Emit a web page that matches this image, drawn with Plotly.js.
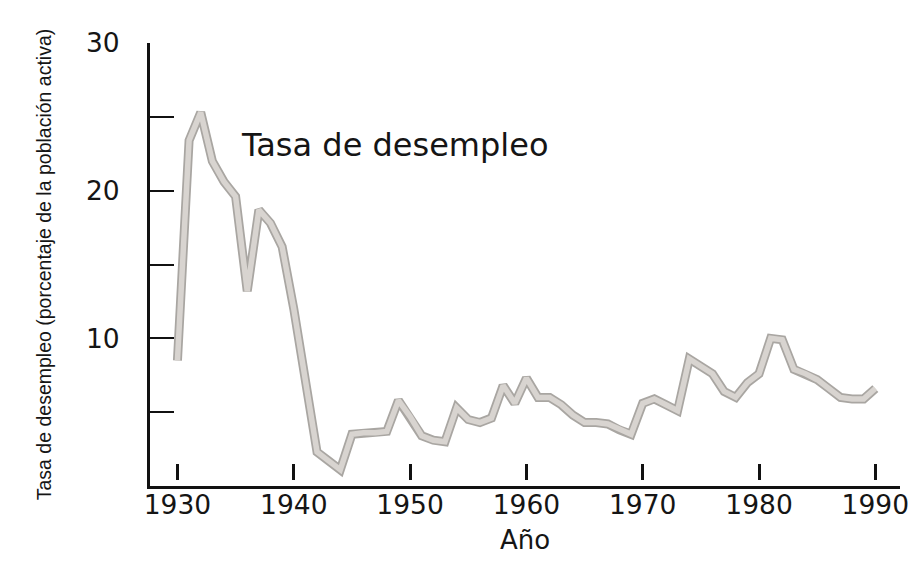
<!DOCTYPE html>
<html>
<head>
<meta charset="utf-8">
<script src="https://cdn.plot.ly/plotly-3.0.1.min.js"></script>
<style>html,body{margin:0;padding:0;background:#fff;}#chart{width:920px;height:566px;}</style>
</head>
<body>
<div id="chart"></div>
<script>
// Years and unemployment rate (% of labour force)
const years = [1930,1931,1932,1933,1934,1935,1936,1937,1938,1939,
               1940,1941,1942,1943,1944,1945,1946,1947,1948,1949,
               1950,1951,1952,1953,1954,1955,1956,1957,1958,1959,
               1960,1961,1962,1963,1964,1965,1966,1967,1968,1969,
               1970,1971,1972,1973,1974,1975,1976,1977,1978,1979,
               1980,1981,1982,1983,1984,1985,1986,1987,1988,1989,1990];
const unemployment = [8.5,23.4,25.3,22.0,20.6,19.6,13.2,18.7,17.8,16.2,
                      12.0,7.4,2.3,1.7,1.1,3.5,3.6,3.6,3.7,5.8,
                      4.7,3.4,3.1,3.0,5.3,4.5,4.3,4.6,6.8,5.6,
                      7.3,6.0,6.0,5.5,4.8,4.3,4.3,4.2,3.8,3.5,
                      5.6,5.9,5.5,5.1,8.6,8.1,7.6,6.4,6.0,7.0,
                      7.6,10.0,9.9,7.9,7.6,7.2,6.6,6.0,5.9,5.9,6.6];

const xTickVals = [1930,1940,1950,1960,1970,1980,1990];
const xTickText = ['1930','1940','1950','1960','1970','1980','1990'];
const yTickVals = [5,10,15,20,25,30];
const yTickText = ['','10','','20','','30'];

const seriesLabel = 'Tasa de desempleo';
const xTitle = 'Año';
const yTitle = 'Tasa de desempleo (porcentaje de la población activa)';

const xRange = [1927.64, 1992.12];
const yRange = [0, 30];

const traces = [
  {x: years, y: unemployment, type: 'scatter', mode: 'lines',
   line: {color: '#a9a6a2', width: 9}, hoverinfo: 'skip', showlegend: false},
  {x: years, y: unemployment, type: 'scatter', mode: 'lines',
   line: {color: '#d8d4d0', width: 5.5}, showlegend: false, name: seriesLabel},
  // carries the tick axis that sits just above the baseline
  {x: years, y: unemployment, type: 'scatter', mode: 'lines', xaxis: 'x2', yaxis: 'y',
   line: {color: 'rgba(0,0,0,0)', width: 0}, opacity: 0, hoverinfo: 'skip', showlegend: false}
];

const tickFont = {family: 'DejaVu Sans, Arial, sans-serif', size: 26.5, color: '#151515'};

const layout = {
  width: 920, height: 566,
  margin: {l: 150, r: 20, t: 43, b: 80},
  paper_bgcolor: '#ffffff', plot_bgcolor: '#ffffff',
  showlegend: false,
  xaxis: {
    range: xRange, showgrid: false, zeroline: false,
    showline: true, linecolor: '#111', linewidth: 3,
    tickmode: 'array', tickvals: xTickVals, showticklabels: false,
    ticks: '',
    title: {text: xTitle, font: {family: 'DejaVu Sans, Arial, sans-serif', size: 26, color: '#151515'}, standoff: 43}
  },
  xaxis2: {
    overlaying: 'x', anchor: 'free', position: 0.014, side: 'bottom',
    range: xRange, showgrid: false, zeroline: false, showline: false,
    tickmode: 'array', tickvals: xTickVals, ticktext: xTickText,
    showticklabels: true, tickfont: tickFont, ticklabelstandoff: 7,
    ticks: 'inside', ticklen: 16, tickwidth: 3, tickcolor: '#111'
  },
  yaxis: {
    range: yRange, showgrid: false, zeroline: false,
    showline: true, linecolor: '#111', linewidth: 3,
    tickmode: 'array', tickvals: yTickVals, ticktext: yTickText,
    ticks: 'inside', ticklen: 24, tickwidth: 2, tickcolor: '#111',
    tickfont: tickFont, ticklabelstandoff: 22,
    title: {text: yTitle, font: {family: 'Liberation Sans, Arial, sans-serif', size: 19.5, color: '#151515'}, standoff: 30}
  },
  annotations: [{
    x: 1935.3, y: 23.1, xref: 'x', yref: 'y', xanchor: 'left', yanchor: 'middle',
    text: seriesLabel, showarrow: false,
    font: {family: 'DejaVu Sans, Arial, sans-serif', size: 32, color: '#151515'}
  }]
};

Plotly.newPlot('chart', traces, layout, {displayModeBar: false, staticPlot: true});
</script>
</body>
</html>
